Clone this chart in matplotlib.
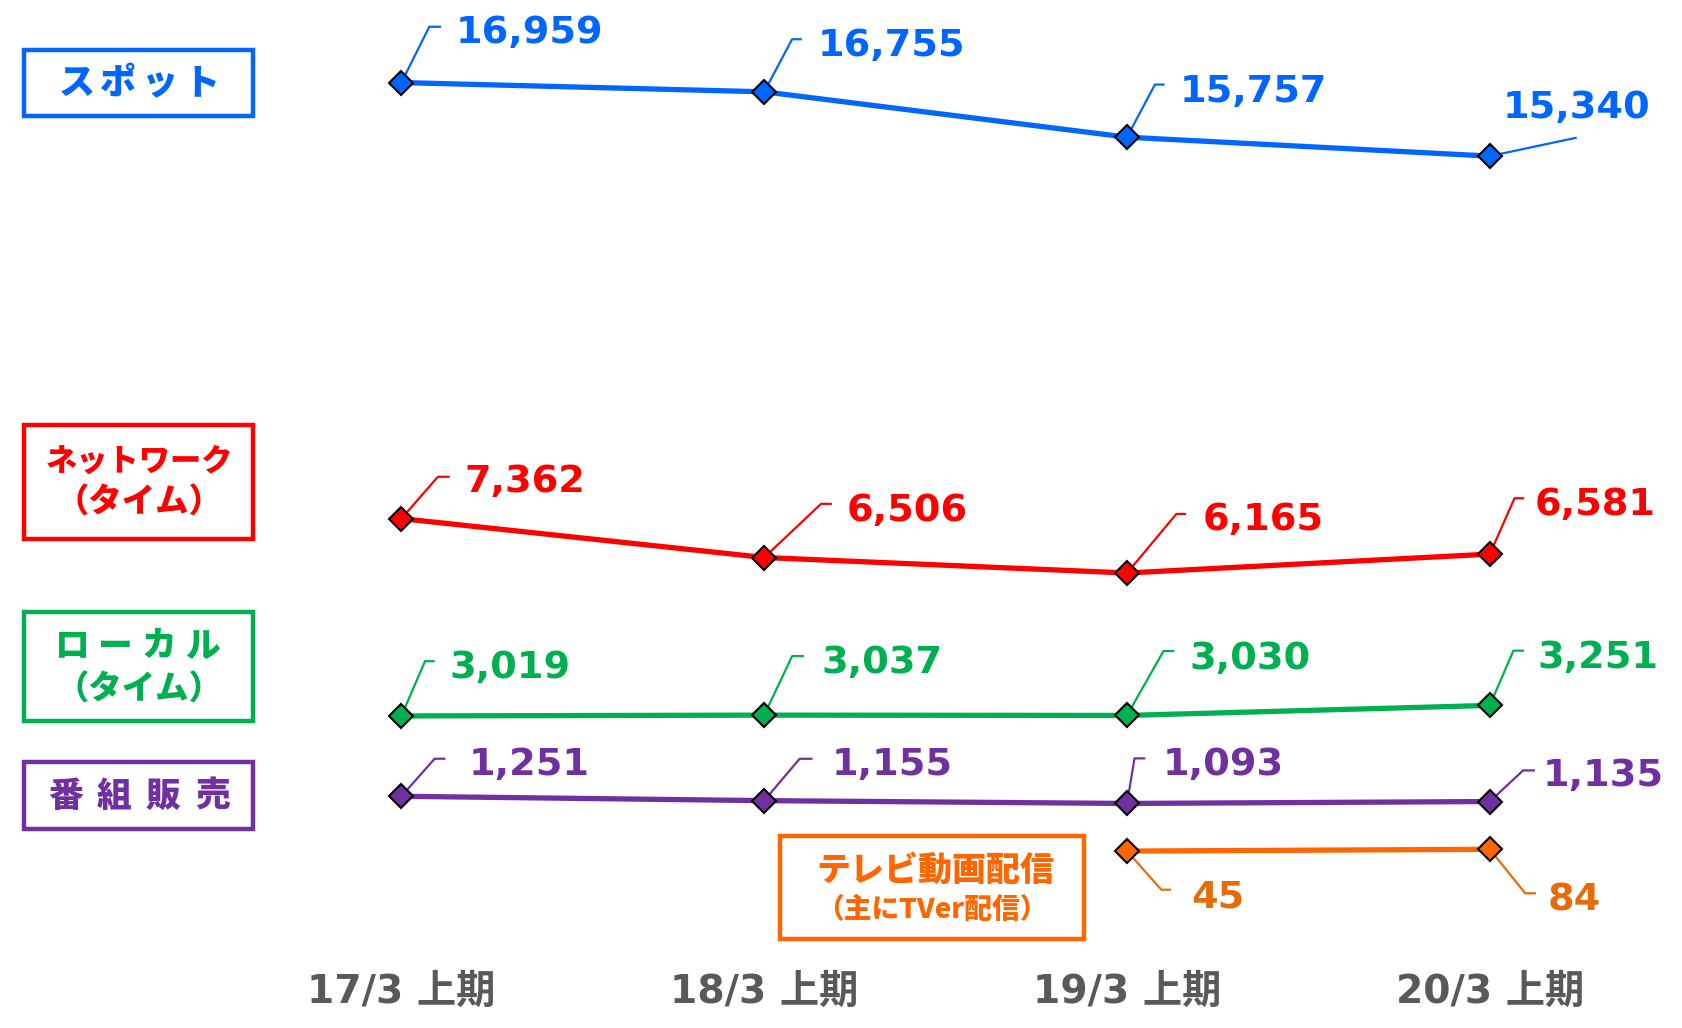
import matplotlib
matplotlib.use('Agg')
import matplotlib.pyplot as plt
from matplotlib.transforms import IdentityTransform, blended_transform_factory
from matplotlib.lines import Line2D
from matplotlib.patches import Rectangle

# ---------------- data ----------------
periods = ['17/3 上期', '18/3 上期', '19/3 上期', '20/3 上期']
spot = [16959, 16755, 15757, 15340]
network = [7362, 6506, 6165, 6581]
local = [3019, 3037, 3030, 3251]
program_sales = [1251, 1155, 1093, 1135]
tver_idx = [2, 3]
tver = [45, 84]

# ---------------- style ----------------
W, H = 1683, 1028
S = 1683 / 1568
BLUE = '#0066FF'
RED = '#FF0000'
GREEN = '#00B050'
PURPLE = '#7030A0'
ORANGE = '#FF6600'
ORANGE_TXT = '#E46C0A'
GRAY = '#595959'
NUMFONT = dict(family='DejaVu Sans', weight='bold', size=27.5)
JP = ['Noto Sans CJK JP', 'DejaVu Sans']
TXT_DY = -3  # shift of number labels (reference px)

fig = plt.figure(figsize=(W / 100, H / 100), dpi=100)
ax = fig.add_axes([0, 0, 1, 1])
ax.set_xlim(-1.1064, 3.5325)
ax.set_ylim(-3849, 18776)
ax.axis('off')

# label offsets (elbow, end-of-leader, text anchor) in reference pixels, y up
spot_off = [((26, 52), (36, 52), (51, 49), 'left'),
            ((26, 49), (34, 49), (50, 46), 'left'),
            ((26, 49), (34, 49), (49, 45), 'left'),
            ((80, 17), (80, 17), (81, 48), 'center')]
net_off = [((34, 39), (44, 39), (59, 37), 'left'),
           ((53, 50), (62, 50), (77, 46), 'left'),
           ((46, 55), (54, 55), (70, 52), 'left'),
           ((23, 52), (31, 52), (42, 49), 'left')]
loc_off = [((22, 51), (30, 51), (45, 48), 'left'),
           ((26, 55), (36, 55), (53, 52), 'left'),
           ((34, 60), (43, 60), (58, 56), 'left'),
           ((22, 51), (31, 51), (44, 47), 'left')]
pur_off = [((31, 35), (40, 35), (63, 32), 'left'),
           ((33, 39), (44, 39), (63, 36), 'left'),
           ((7, 42), (16, 42), (33, 39), 'left'),
           ((31, 29), (41, 29), (49, 27), 'left')]
tv_off = [((32, -36), (40, -36), (60, -40), 'left'),
          ((33, -41), (42, -41), (54, -45), 'left')]


def draw_series(xs, vals, color, txtcolor, offs):
    ax.plot(xs, vals, color=color, lw=3.8, marker='D', ms=12, mfc=color,
            mec='black', mew=1.5, zorder=3, solid_capstyle='butt')
    for x, v, (el, en, tx, ha) in zip(xs, vals, offs):
        px, py = ax.transData.transform((x, v))
        line = Line2D([px, px + el[0] * S, px + en[0] * S],
                      [py, py + el[1] * S, py + en[1] * S],
                      transform=IdentityTransform(), color=txtcolor, lw=1.6,
                      clip_on=False, zorder=2)
        ax.add_line(line)
        ax.text(px + tx[0] * S, py + (tx[1] + TXT_DY) * S, f'{v:,}',
                transform=IdentityTransform(),
                ha=ha, va='center', color=txtcolor, **NUMFONT)


xs = list(range(len(periods)))
draw_series(xs, spot, BLUE, BLUE, spot_off)
draw_series(xs, network, RED, RED, net_off)
draw_series(xs, local, GREEN, GREEN, loc_off)
draw_series(xs, program_sales, PURPLE, PURPLE, pur_off)
draw_series(tver_idx, tver, ORANGE, ORANGE_TXT, tv_off)

# category labels
tr = blended_transform_factory(ax.transData, ax.transAxes)
for i, p in enumerate(periods):
    ax.text(i, 1 - 992 / H, p, transform=tr, ha='center', va='center',
            color=GRAY, fontsize=28.3, fontweight='bold',
            family=['DejaVu Sans', 'Noto Sans CJK JP'])


# legend boxes (pixel layout, y measured from top)
def box(x0, y0, x1, y1, color):
    fig.add_artist(Rectangle((x0, H - y1), x1 - x0, y1 - y0, transform=IdentityTransform(),
                             fill=False, ec=color, lw=3.2, joinstyle='miter'))


def jtext(cx, cy, s, color, size):
    fig.text(cx, H - cy, s, transform=IdentityTransform(), ha='center', va='center',
             color=color, fontsize=size, fontweight='heavy', family=JP)


def spaced(cx, cy, s, pitch, color, size):
    n = len(s)
    for k, ch in enumerate(s):
        jtext(cx + (k - (n - 1) / 2) * pitch, cy, ch, color, size)


box(24, 50, 253, 116, BLUE)
spaced(139, 83, 'スポット', 41.5, BLUE, 26)

box(24, 425, 253, 539, RED)
jtext(139, 461, 'ネットワーク', RED, 22.5)
jtext(139, 502, '（タイム）', RED, 24)

box(24, 612, 253, 721, GREEN)
spaced(137, 646, 'ローカル', 43.5, GREEN, 25)
jtext(139, 689, '（タイム）', GREEN, 24)

box(24, 762, 253, 829, PURPLE)
spaced(139, 796, '番組販売', 49, PURPLE, 25)

box(780, 836, 1084, 939, ORANGE)
jtext(935, 870, 'テレビ動画配信', ORANGE, 24.5)
jtext(932, 910, '（主にTVer配信）', ORANGE, 20)

fig.savefig('out.png', dpi=100)
